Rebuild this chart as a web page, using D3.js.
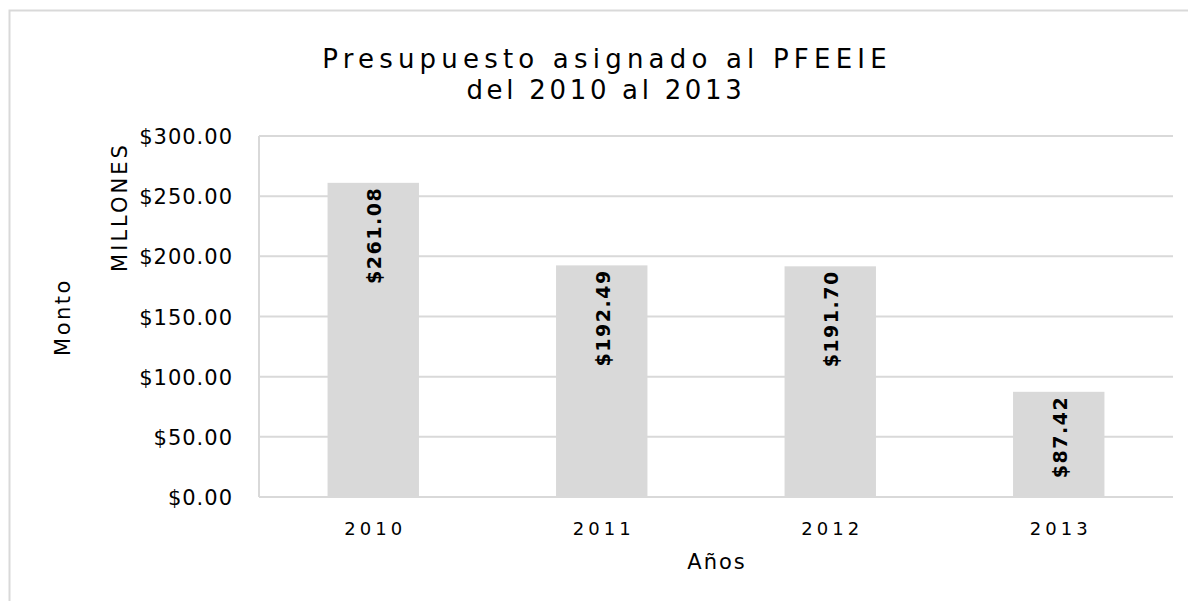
<!DOCTYPE html>
<html>
<head>
<meta charset="utf-8">
<script src="https://cdn.jsdelivr.net/npm/d3@7"></script>
<style>
  body { margin: 0; background: #fff; }
  text { font-family: "DejaVu Sans", "Noto Sans", sans-serif; fill: #000; }
</style>
</head>
<body>
<div id="chart"></div>
<script>
// data
var years = ["2010", "2011", "2012", "2013"];
var amounts = [261.08, 192.49, 191.70, 87.42];
var yTicks = [0, 50, 100, 150, 200, 250, 300];
var titleLines = ["Presupuesto asignado al PFEEIE", "del 2010 al 2013"];

var w = 1188, h = 601;
var margin = {left: 259, right: 1173, top: 136, bottom: 497};
var grey = "#d9d9d9";

var svg = d3.select("#chart").append("svg")
    .attr("width", w)
    .attr("height", h);

// outer frame
svg.append("rect")
    .attr("x", 9.5).attr("y", 10.5)
    .attr("width", w).attr("height", h)
    .attr("fill", "none")
    .attr("stroke", grey)
    .attr("stroke-width", 2);

var xScale = d3.scaleBand()
    .domain(years)
    .range([margin.left, margin.right])
    .paddingInner(0.6)
    .paddingOuter(0.3);

var yScale = d3.scaleLinear()
    .domain([0, 300])
    .range([margin.bottom, margin.top]);

// gridlines
svg.append("g")
    .selectAll("line")
    .data(yTicks)
    .enter()
    .append("line")
    .attr("x1", margin.left)
    .attr("x2", margin.right)
    .attr("y1", d => yScale(d))
    .attr("y2", d => yScale(d))
    .attr("stroke", grey)
    .attr("stroke-width", 2);

// y axis line
svg.append("line")
    .attr("x1", margin.left).attr("x2", margin.left)
    .attr("y1", margin.top).attr("y2", margin.bottom)
    .attr("stroke", grey)
    .attr("stroke-width", 2);

// bars
svg.selectAll(".bar")
    .data(years)
    .enter()
    .append("rect")
    .attr("class", "bar")
    .attr("x", d => xScale(d))
    .attr("y", (d, i) => yScale(amounts[i]))
    .attr("width", xScale.bandwidth())
    .attr("height", (d, i) => margin.bottom - yScale(amounts[i]))
    .attr("fill", grey);

// bar labels (rotated, inside end)
svg.selectAll(".lbl")
    .data(years)
    .enter()
    .append("text")
    .attr("class", "lbl")
    .attr("transform", (d, i) => "translate(" + (xScale(d) + xScale.bandwidth() / 2 + 8) + "," + (yScale(amounts[i]) + 4) + ") rotate(-90)")
    .attr("text-anchor", "end")
    .style("font-size", "19px")
    .style("font-weight", "bold")
    .style("letter-spacing", "1.5px")
    .text((d, i) => "$" + amounts[i].toFixed(2));

// y tick labels
svg.selectAll(".ytick")
    .data(yTicks)
    .enter()
    .append("text")
    .attr("class", "ytick")
    .attr("x", 233)
    .attr("y", d => yScale(d) + 8)
    .attr("text-anchor", "end")
    .style("font-size", "21px")
    .style("letter-spacing", "1px")
    .text(d => "$" + d.toFixed(2));

// x tick labels
svg.selectAll(".xtick")
    .data(years)
    .enter()
    .append("text")
    .attr("class", "xtick")
    .attr("x", d => xScale(d) + xScale.bandwidth() / 2 + 2)
    .attr("y", 535)
    .attr("text-anchor", "middle")
    .style("font-size", "18px")
    .style("letter-spacing", "4px")
    .text(d => d);

// title (first line is spaced wider, like the original)
svg.selectAll(".title")
    .data(titleLines)
    .enter()
    .append("text")
    .attr("class", "title")
    .attr("x", (d, i) => i ? 606 : 607)
    .attr("y", (d, i) => 68 + i * 31)
    .attr("text-anchor", "middle")
    .style("font-size", "26px")
    .style("letter-spacing", (d, i) => i ? "3.7px" : "5.2px")
    .text(d => d);

// axis titles
svg.append("text")
    .attr("transform", "translate(127,207) rotate(-90)")
    .attr("text-anchor", "middle")
    .style("font-size", "21px")
    .style("letter-spacing", "3px")
    .text("MILLONES");

svg.append("text")
    .attr("transform", "translate(70,317) rotate(-90)")
    .attr("text-anchor", "middle")
    .style("font-size", "21px")
    .style("letter-spacing", "2.5px")
    .text("Monto");

svg.append("text")
    .attr("x", 717)
    .attr("y", 569)
    .attr("text-anchor", "middle")
    .style("font-size", "21px")
    .style("letter-spacing", "2px")
    .text("Años");
</script>
</body>
</html>
